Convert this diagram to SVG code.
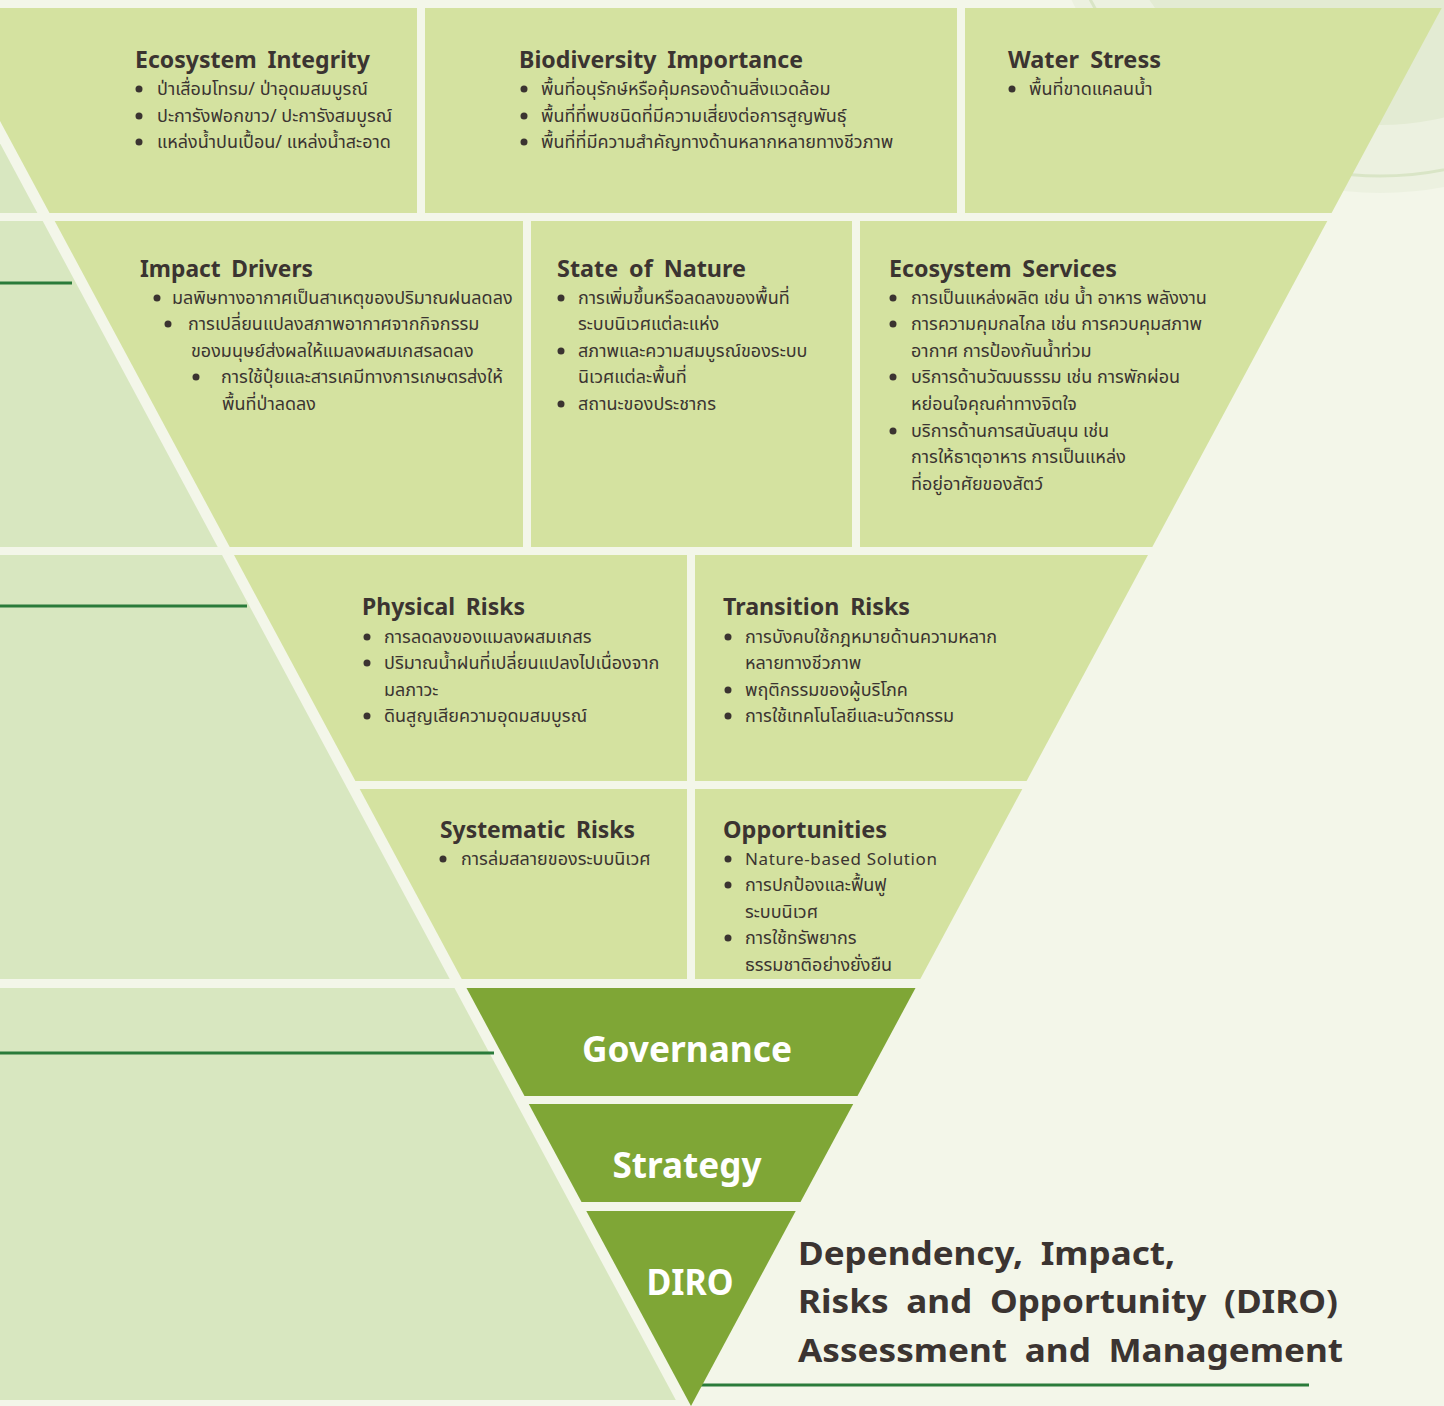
<svg xmlns="http://www.w3.org/2000/svg" width="1444" height="1406" viewBox="0 0 1444 1406">
<defs>
<style>
.bg{fill:#f3f6e9}
.lg{fill:#d8e7c0}
.box{fill:#d4e2a0}
.dk{fill:#7fa636}
.t{font-family:"Noto Sans","Open Sans","DejaVu Sans",sans-serif;font-weight:700;font-size:24px;fill:#3b3431;word-spacing:5px}
.b{font-family:"Noto Sans Thai","Noto Sans Thai Looped","Noto Sans","DejaVu Sans",sans-serif;font-size:18px;fill:#3b3431}
.lat{font-family:"Noto Sans","Open Sans",sans-serif;font-size:17px;fill:#3b3431;letter-spacing:1px}
.w{font-family:"Noto Sans","Open Sans",sans-serif;font-weight:700;font-size:36px;fill:#ffffff;text-anchor:middle}
.cap{font-family:"Noto Sans","Open Sans",sans-serif;font-weight:700;font-size:33px;fill:#3b3431;word-spacing:8px}
.dot{fill:#3b3431}
.ln{stroke:#2a7b3a;stroke-width:3;fill:none}
.ring{fill:none;stroke:#d9e5c6;stroke-width:3}
</style>
</defs>
<rect class="bg" x="0" y="0" width="1444" height="1406"/>
<g id="decoration">
<circle cx="1380" cy="-150" r="343" fill="#ecf1e0"/>
<circle cx="1380" cy="-150" r="326" class="ring"/>
<circle cx="1380" cy="-150" r="275" fill="#e3ebd3"/>
</g>
<g id="left-bands">
<polygon class="lg" points="-100,8 -72.7,8 37.4,213 -100,213"/>
<polygon class="lg" points="-10,221 42.7,221 217.7,547 -10,547"/>
<polygon class="lg" points="-10,555 222,555 449.7,979 -10,979"/>
<polygon class="lg" points="-10,988 454.5,988 675.8,1400 -10,1400"/>
</g>
<g id="connectors">
<line class="ln" x1="0" y1="283" x2="72" y2="283"/>
<line class="ln" x1="0" y1="606" x2="247" y2="606"/>
<line class="ln" x1="0" y1="1053" x2="494" y2="1053"/>
<line class="ln" x1="700" y1="1385" x2="1309" y2="1385"/>
</g>
<g id="ecosystem-integrity">
<polygon class="box" points="-60.7,8 417,8 417,213 49.5,213"/>
<text class="t" x="135" y="68" textLength="235" lengthAdjust="spacingAndGlyphs">Ecosystem Integrity</text>
<circle class="dot" cx="139" cy="89" r="3.5"/><text class="b" x="157" y="95">ป่าเสื่อมโทรม/ ป่าอุดมสมบูรณ์</text>
<circle class="dot" cx="139" cy="116" r="3.5"/><text class="b" x="157" y="122">ปะการังฟอกขาว/ ปะการังสมบูรณ์</text>
<circle class="dot" cx="139" cy="142" r="3.5"/><text class="b" x="157" y="148">แหล่งน้ำปนเปื้อน/ แหล่งน้ำสะอาด</text>
</g>
<g id="biodiversity-importance">
<rect class="box" x="425" y="8" width="532" height="205"/>
<text class="t" x="519" y="68" textLength="284" lengthAdjust="spacingAndGlyphs">Biodiversity Importance</text>
<circle class="dot" cx="524" cy="89" r="3.5"/><text class="b" x="541" y="95">พื้นที่อนุรักษ์หรือคุ้มครองด้านสิ่งแวดล้อม</text>
<circle class="dot" cx="524" cy="116" r="3.5"/><text class="b" x="541" y="122">พื้นที่ที่พบชนิดที่มีความเสี่ยงต่อการสูญพันธุ์</text>
<circle class="dot" cx="524" cy="142" r="3.5"/><text class="b" x="541" y="148">พื้นที่ที่มีความสำคัญทางด้านหลากหลายทางชีวภาพ</text>
</g>
<g id="water-stress">
<polygon class="box" points="965,8 1441.7,8 1331.6,213 965,213"/>
<text class="t" x="1008" y="68" textLength="153" lengthAdjust="spacingAndGlyphs">Water Stress</text>
<circle class="dot" cx="1012" cy="89" r="3.5"/><text class="b" x="1029" y="95">พื้นที่ขาดแคลนน้ำ</text>
</g>
<g id="impact-drivers">
<polygon class="box" points="54.7,221 523,221 523,547 229.7,547"/>
<text class="t" x="140" y="277" textLength="173" lengthAdjust="spacingAndGlyphs">Impact Drivers</text>
<circle class="dot" cx="157" cy="298" r="3.5"/><text class="b" x="172" y="304">มลพิษทางอากาศเป็นสาเหตุของปริมาณฝนลดลง</text>
<circle class="dot" cx="168" cy="324" r="3.5"/><text class="b" x="188" y="330">การเปลี่ยนแปลงสภาพอากาศจากกิจกรรม</text>
<text class="b" x="191" y="357">ของมนุษย์ส่งผลให้แมลงผสมเกสรลดลง</text>
<circle class="dot" cx="196" cy="377" r="3.5"/><text class="b" x="221" y="383">การใช้ปุ๋ยและสารเคมีทางการเกษตรส่งให้</text>
<text class="b" x="222" y="410">พื้นที่ป่าลดลง</text>
</g>
<g id="state-of-nature">
<rect class="box" x="531" y="221" width="321" height="326"/>
<text class="t" x="557" y="277" textLength="189" lengthAdjust="spacingAndGlyphs">State of Nature</text>
<circle class="dot" cx="561" cy="298" r="3.5"/><text class="b" x="578" y="304">การเพิ่มขึ้นหรือลดลงของพื้นที่</text>
<text class="b" x="578" y="330">ระบบนิเวศแต่ละแห่ง</text>
<circle class="dot" cx="561" cy="351" r="3.5"/><text class="b" x="578" y="357">สภาพและความสมบูรณ์ของระบบ</text>
<text class="b" x="578" y="383">นิเวศแต่ละพื้นที่</text>
<circle class="dot" cx="561" cy="404" r="3.5"/><text class="b" x="578" y="410">สถานะของประชากร</text>
</g>
<g id="ecosystem-services">
<polygon class="box" points="860,221 1327.3,221 1152.3,547 860,547"/>
<text class="t" x="889" y="277" textLength="228" lengthAdjust="spacingAndGlyphs">Ecosystem Services</text>
<circle class="dot" cx="893" cy="298" r="3.5"/><text class="b" x="911" y="304">การเป็นแหล่งผลิต เช่น น้ำ อาหาร พลังงาน</text>
<circle class="dot" cx="893" cy="324" r="3.5"/><text class="b" x="911" y="330">การความคุมกลไกล เช่น การควบคุมสภาพ</text>
<text class="b" x="911" y="357">อากาศ การป้องกันน้ำท่วม</text>
<circle class="dot" cx="893" cy="377" r="3.5"/><text class="b" x="911" y="383">บริการด้านวัฒนธรรม เช่น การพักผ่อน</text>
<text class="b" x="911" y="410">หย่อนใจคุณค่าทางจิตใจ</text>
<circle class="dot" cx="893" cy="431" r="3.5"/><text class="b" x="911" y="437">บริการด้านการสนับสนุน เช่น</text>
<text class="b" x="911" y="463">การให้ธาตุอาหาร การเป็นแหล่ง</text>
<text class="b" x="911" y="490">ที่อยู่อาศัยของสัตว์</text>
</g>
<g id="physical-risks">
<polygon class="box" points="234,555 687,555 687,781 355.4,781"/>
<text class="t" x="362" y="615" textLength="163" lengthAdjust="spacingAndGlyphs">Physical Risks</text>
<circle class="dot" cx="367" cy="637" r="3.5"/><text class="b" x="384" y="643">การลดลงของแมลงผสมเกสร</text>
<circle class="dot" cx="367" cy="663" r="3.5"/><text class="b" x="384" y="669">ปริมาณน้ำฝนที่เปลี่ยนแปลงไปเนื่องจาก</text>
<text class="b" x="384" y="696">มลภาวะ</text>
<circle class="dot" cx="367" cy="716" r="3.5"/><text class="b" x="384" y="722">ดินสูญเสียความอุดมสมบูรณ์</text>
</g>
<g id="transition-risks">
<polygon class="box" points="695,555 1148,555 1026.6,781 695,781"/>
<text class="t" x="723" y="615" textLength="187" lengthAdjust="spacingAndGlyphs">Transition Risks</text>
<circle class="dot" cx="728" cy="637" r="3.5"/><text class="b" x="745" y="643">การบังคบใช้กฎหมายด้านความหลาก</text>
<text class="b" x="745" y="669">หลายทางชีวภาพ</text>
<circle class="dot" cx="728" cy="690" r="3.5"/><text class="b" x="745" y="696">พฤติกรรมของผู้บริโภค</text>
<circle class="dot" cx="728" cy="716" r="3.5"/><text class="b" x="745" y="722">การใช้เทคโนโลยีและนวัตกรรม</text>
</g>
<g id="systematic-risks">
<polygon class="box" points="359.7,789 687,789 687,979 461.7,979"/>
<text class="t" x="440" y="838" textLength="195" lengthAdjust="spacingAndGlyphs">Systematic Risks</text>
<circle class="dot" cx="443" cy="859" r="3.5"/><text class="b" x="461" y="865">การล่มสลายของระบบนิเวศ</text>
</g>
<g id="opportunities">
<polygon class="box" points="695,789 1022.3,789 920.3,979 695,979"/>
<text class="t" x="723" y="838" textLength="164" lengthAdjust="spacingAndGlyphs">Opportunities</text>
<circle class="dot" cx="728" cy="859" r="3.5"/><text class="lat" x="745" y="865" textLength="193">Nature-based Solution</text>
<circle class="dot" cx="728" cy="885" r="3.5"/><text class="b" x="745" y="891">การปกป้องและฟื้นฟู</text>
<text class="b" x="745" y="918">ระบบนิเวศ</text>
<circle class="dot" cx="728" cy="938" r="3.5"/><text class="b" x="745" y="944">การใช้ทรัพยากร</text>
<text class="b" x="745" y="971">ธรรมชาติอย่างยั่งยืน</text>
</g>
<g id="governance">
<polygon class="dk" points="466.5,988 915.5,988 857.5,1096 524.5,1096"/>
<text class="w" x="687" y="1062" textLength="210" lengthAdjust="spacingAndGlyphs">Governance</text>
</g>
<g id="strategy">
<polygon class="dk" points="528.8,1104 853.2,1104 800.5,1202 581.5,1202"/>
<text class="w" x="687" y="1178" textLength="149" lengthAdjust="spacingAndGlyphs">Strategy</text>
</g>
<g id="diro">
<polygon class="dk" points="586.3,1211 795.7,1211 691,1406"/>
<text class="w" x="690" y="1295" textLength="87" lengthAdjust="spacingAndGlyphs">DIRO</text>
</g>
<g id="caption">
<text class="cap" x="798" y="1265" textLength="377" lengthAdjust="spacingAndGlyphs">Dependency, Impact,</text>
<text class="cap" x="798" y="1313" textLength="540" lengthAdjust="spacingAndGlyphs">Risks and Opportunity (DIRO)</text>
<text class="cap" x="798" y="1362" textLength="545" lengthAdjust="spacingAndGlyphs">Assessment and Management</text>
</g>
</svg>
